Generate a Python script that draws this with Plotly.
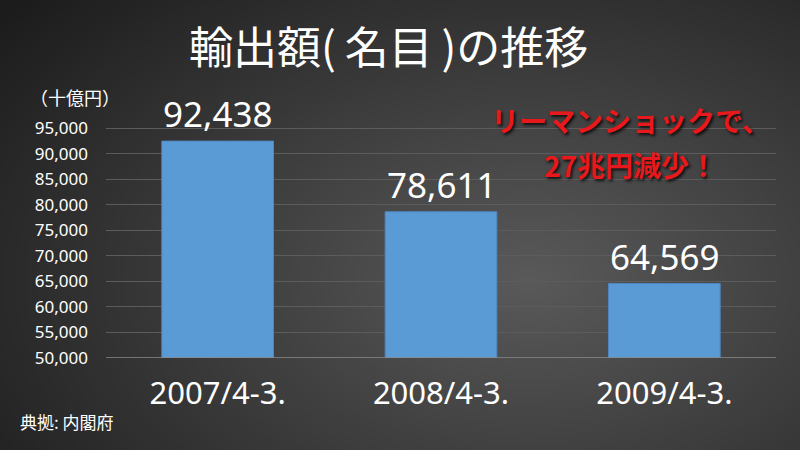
import base64, struct, zlib
import numpy as np
import plotly.graph_objects as go

# ---- data ----
categories = ["2007/4-3.", "2008/4-3.", "2009/4-3."]
values = [92438, 78611, 64569]
value_labels = ["92,438", "78,611", "64,569"]
tick_vals = [50000, 55000, 60000, 65000, 70000, 75000, 80000, 85000, 90000, 95000]
tick_text = ["50,000", "55,000", "60,000", "65,000", "70,000", "75,000",
             "80,000", "85,000", "90,000", "95,000"]
title_text = "輸出額(\u2009名目\u2009)の推移"
unit_text = "（十億円）"
note_lines = ["リーマンショックで、", "27兆円減少！"]
source_text = "典拠: 内閣府"

# ---- radial gradient background as PNG data URI ----
def make_png(arr):
    h, w, _ = arr.shape
    raw = b"".join(b"\x00" + arr[i].tobytes() for i in range(h))
    def chunk(tag, data):
        c = struct.pack(">I", len(data)) + tag + data
        return c + struct.pack(">I", zlib.crc32(tag + data) & 0xffffffff)
    return (b"\x89PNG\r\n\x1a\n" + chunk(b"IHDR", struct.pack(">IIBBBBB", w, h, 8, 2, 0, 0, 0))
            + chunk(b"IDAT", zlib.compress(raw, 9)) + chunk(b"IEND", b""))

W, H = 320, 180
yy, xx = np.mgrid[0:H, 0:W]
cx, cy = 0.66 * W, 0.62 * H
d = np.sqrt(((xx - cx) / (0.85 * W)) ** 2 + ((yy - cy) / (0.95 * H)) ** 2)
d = np.clip(d, 0, 1)
c_in, c_out = 90.0, 28.0
g = (c_in + (c_out - c_in) * d).astype(np.uint8)
img = np.stack([g, g, g], axis=-1).astype(np.uint8)
uri = "data:image/png;base64," + base64.b64encode(make_png(img)).decode()

CJK = "Noto Sans CJK JP"
NUM = "Noto Sans"

fig = go.Figure()
fig.add_trace(go.Bar(
    x=categories, y=values,
    marker=dict(color="#5b9bd5", line=dict(color="#4f86c0", width=1)),
    width=0.5, hoverinfo="skip",
))

for c, v, t in zip(categories, values, value_labels):
    fig.add_annotation(x=c, y=v, text=t, showarrow=False, xref="x", yref="y",
                       yanchor="bottom", yshift=2,
                       font=dict(family=NUM, size=35, color="white"))

px_per = 230 / 45000
top_val = 95500
fig.update_layout(
    width=800, height=450,
    margin=dict(l=0, r=0, t=0, b=0, autoexpand=False),
    paper_bgcolor="#2c2c2c", plot_bgcolor="rgba(0,0,0,0)",
    showlegend=False,
    bargap=0.5,
    images=[dict(source=uri, xref="paper", yref="paper", x=0, y=1, sizex=1, sizey=1,
                 sizing="stretch", layer="below", xanchor="left", yanchor="top")],
    xaxis=dict(domain=[106 / 800, 776 / 800], tickfont=dict(family=NUM, size=31, color="white"),
               showline=False, ticks="", ticklabelstandoff=14, showgrid=False, automargin=False),
    yaxis=dict(domain=[1 - 358 / 450, 1 - (358 - (top_val - 50000) * px_per) / 450],
               range=[50000, top_val], tickvals=tick_vals, ticktext=tick_text,
               tickfont=dict(family=NUM, size=17, color="white"),
               gridcolor="#5c5c5c", gridwidth=1, zeroline=False, showline=False,
               ticks="", ticklabelstandoff=17, automargin=False),
)
# baseline axis line at 50,000
fig.add_shape(type="line", xref="x domain", yref="y", x0=0, x1=1, y0=50000, y1=50000,
              line=dict(color="#8a8a8a", width=1.5), layer="above")

fig.add_annotation(text=title_text, x=388 / 800, y=1 - 45 / 450, xref="paper", yref="paper",
                   showarrow=False, xanchor="center", yanchor="middle",
                   font=dict(family=CJK, size=44, color="white"))
fig.add_annotation(text=unit_text, x=28 / 800, y=1 - 97 / 450, xref="paper", yref="paper",
                   showarrow=False, xanchor="left", yanchor="middle",
                   font=dict(family=CJK, size=18, color="white"))
for i, line in enumerate(note_lines):
    fig.add_annotation(text=line, x=630 / 800, y=1 - (120 + 45 * i) / 450, xref="paper", yref="paper",
                       showarrow=False, xanchor="center", yanchor="middle",
                       font=dict(family=CJK, size=28, color="#e8191c", weight="bold",
                                 shadow="2px 2px 3px rgba(0,0,0,0.8)"))
fig.add_annotation(text=source_text, x=18 / 800, y=1 - 421 / 450, xref="paper", yref="paper",
                   showarrow=False, xanchor="left", yanchor="middle",
                   font=dict(family=CJK, size=17, color="white"))

fig.write_html("out.html", config={"displayModeBar": False},
               post_script="document.body.style.margin='0';document.body.style.overflow='hidden';")
